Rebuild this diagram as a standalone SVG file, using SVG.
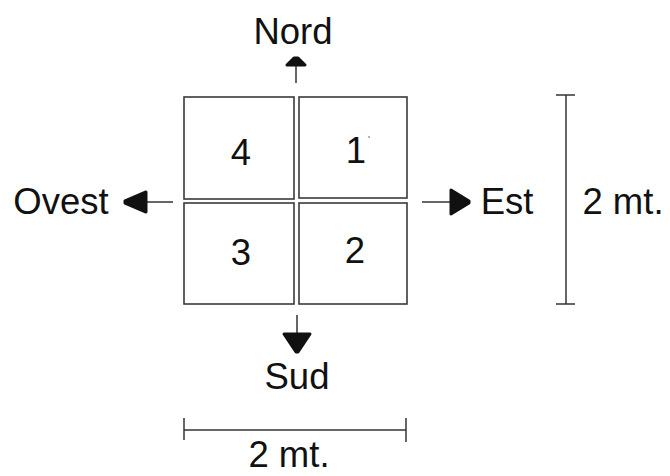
<svg xmlns="http://www.w3.org/2000/svg" width="670" height="476" viewBox="0 0 670 476">
<style>
.box{fill:#fff;stroke:#3a3a3a;stroke-width:1.6}
.ln{stroke:#333;stroke-width:1.5;fill:none}
.head{fill:#111;stroke:#111;stroke-width:3;stroke-linejoin:round}
text{font-family:"Liberation Sans",Arial,sans-serif;font-size:36.5px;fill:#111;text-anchor:middle}
</style>
<rect width="670" height="476" fill="#fff"/>
<g id="q4"><rect class="box" x="184" y="97" width="110" height="102"/><text x="241" y="165">4</text></g>
<g id="q1"><rect class="box" x="299" y="97" width="108" height="101"/><text x="356" y="163">1</text><circle cx="369" cy="137" r="0.8" fill="#555"/></g>
<g id="q3"><rect class="box" x="184" y="203" width="110" height="101"/><text x="241" y="265">3</text></g>
<g id="q2"><rect class="box" x="299" y="203" width="108" height="101"/><text x="355" y="263">2</text></g>
<g id="nord"><text x="293" y="44">Nord</text></g>
<g id="ovest"><text x="61" y="214">Ovest</text></g>
<g id="est"><text x="507" y="214">Est</text></g>
<g id="sud"><text x="297" y="389">Sud</text></g>
<g id="dimV"><line class="ln" x1="566" y1="95" x2="566" y2="304"/><line class="ln" x1="556" y1="95" x2="575" y2="95"/><line class="ln" x1="556" y1="304" x2="575" y2="304"/><text x="623" y="214">2 mt.</text></g>
<g id="dimH"><line class="ln" x1="184" y1="430" x2="406" y2="430"/><line class="ln" x1="184" y1="418" x2="184" y2="440"/><line class="ln" x1="406" y1="418" x2="406" y2="442"/><text x="289" y="467">2 mt.</text></g>
<g id="connectors">
<line class="ln" x1="296" y1="83" x2="296" y2="66"/>
<path class="head" d="M294 58 L298 58 L305 65 L287 65 Z"/>
<line class="ln" x1="173" y1="202" x2="146" y2="202"/>
<path class="head" d="M125 201 L125 203 L146 212 L146 192 Z"/>
<line class="ln" x1="422" y1="202" x2="450" y2="202"/>
<path class="head" d="M469 201 L469 203 L451 214 L451 190 Z"/>
<line class="ln" x1="297" y1="315" x2="297" y2="334"/>
<path class="head" d="M296 352 L298 352 L310 334 L284 334 Z"/>
</g>
</svg>
